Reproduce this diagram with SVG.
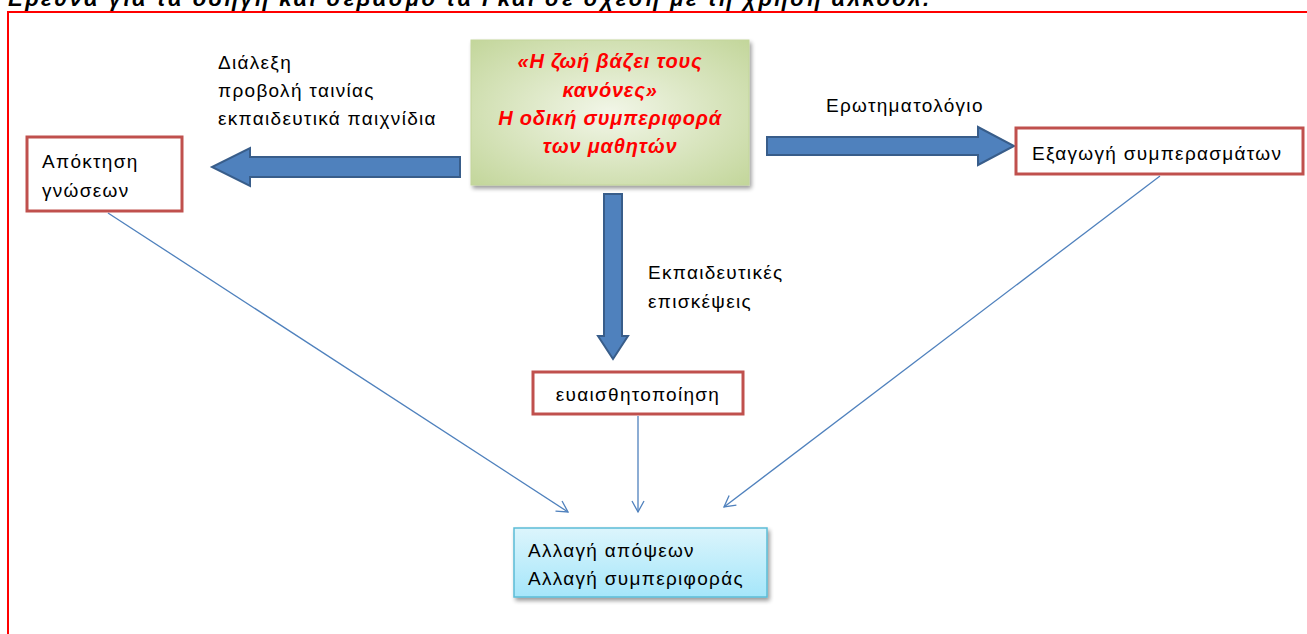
<svg xmlns="http://www.w3.org/2000/svg" width="1307" height="634" viewBox="0 0 1307 634">
<defs>
<style>
.t{font-family:"Liberation Sans",Arial,sans-serif;font-size:19px;letter-spacing:1.3px;fill:#000}
.title{font-family:"Liberation Sans",Arial,sans-serif;font-size:20px;font-weight:bold;font-style:italic;letter-spacing:0.8px;fill:#ff0000}
.box{fill:#fff;stroke:#c0504d;stroke-width:3}
.blk{fill:#4f81bd;stroke:#385d8a;stroke-width:2}
.thin{stroke:#4f81bd;stroke-width:1.3;fill:none;marker-end:url(#open)}
</style>
<radialGradient id="g" cx="50%" cy="50%" r="70%">
<stop offset="0" stop-color="#f2f6e8"/>
<stop offset="1" stop-color="#c3d69b"/>
</radialGradient>
<linearGradient id="b" x1="0" y1="0" x2="0" y2="1">
<stop offset="0" stop-color="#dcf5fc"/>
<stop offset="1" stop-color="#a5e6fa"/>
</linearGradient>
<filter id="sh" x="-10%" y="-10%" width="130%" height="130%">
<feGaussianBlur in="SourceAlpha" stdDeviation="2"/>
<feOffset dx="2" dy="3"/>
<feComponentTransfer><feFuncA type="linear" slope="0.4"/></feComponentTransfer>
<feMerge><feMergeNode/><feMergeNode in="SourceGraphic"/></feMerge>
</filter>
<marker id="open" markerWidth="14" markerHeight="14" refX="12" refY="7" orient="auto" markerUnits="userSpaceOnUse">
<path d="M1,1 L12,7 L1,13" fill="none" stroke="#4f81bd" stroke-width="1.3"/>
</marker>
</defs>
<rect width="1307" height="634" fill="#fff"/>
<text x="4" y="6" textLength="925" lengthAdjust="spacing" style="font-family:'Liberation Sans',Arial,sans-serif;font-size:22px;font-style:italic;font-weight:bold;fill:#000">Έρευνα για τα οδηγή και σεβασμό τα Γκαι σε σχέση με τη χρήση αλκοόλ.</text>
<rect x="8" y="12" width="1310" height="640" fill="none" stroke="#ff0000" stroke-width="2"/>

<g id="connectors">
<path class="blk" d="M460,157 L250,157 L250,148 L212,167 L250,186 L250,177 L460,177 Z"/>
<path class="blk" d="M767,137 L978,137 L978,127 L1014,146 L978,165 L978,155 L767,155 Z"/>
<path class="blk" d="M604,194 L604,336 L598,336 L613,359 L628,336 L622,336 L622,194 Z"/>
<line class="thin" x1="108" y1="213" x2="568" y2="512"/>
<line class="thin" x1="638" y1="416" x2="638" y2="512"/>
<line class="thin" x1="1160" y1="176" x2="724" y2="507"/>
</g>

<g id="center">
<rect x="471" y="40" width="278" height="145" fill="url(#g)" stroke="#c3d69b" stroke-width="1" filter="url(#sh)"/>
<text class="title" text-anchor="middle" x="610" y="68">«Η ζωή βάζει τους</text>
<text class="title" text-anchor="middle" x="610" y="97">κανόνες»</text>
<text class="title" text-anchor="middle" x="610" y="125">Η οδική συμπεριφορά</text>
<text class="title" text-anchor="middle" x="610" y="153">των μαθητών</text>
</g>

<g id="label-left">
<text class="t" x="218" y="69">Διάλεξη</text>
<text class="t" x="218" y="97">προβολή ταινίας</text>
<text class="t" x="218" y="125">εκπαιδευτικά παιχνίδια</text>
</g>

<g id="label-right">
<text class="t" x="826" y="112">Ερωτηματολόγιο</text>
</g>

<g id="label-down">
<text class="t" x="648" y="279">Εκπαιδευτικές</text>
<text class="t" x="648" y="308">επισκέψεις</text>
</g>

<g id="knowledge">
<rect class="box" x="27" y="137" width="155" height="74"/>
<text class="t" x="42" y="168">Απόκτηση</text>
<text class="t" x="42" y="197">γνώσεων</text>
</g>

<g id="conclusions">
<rect class="box" x="1016" y="128" width="287" height="46"/>
<text class="t" x="1032" y="160">Εξαγωγή συμπερασμάτων</text>
</g>

<g id="awareness">
<rect class="box" x="533" y="372" width="210" height="42"/>
<text class="t" x="638" y="401" text-anchor="middle">ευαισθητοποίηση</text>
</g>

<g id="change">
<rect x="514" y="528" width="253" height="69" fill="url(#b)" stroke="#5bbcd6" stroke-width="1.5" filter="url(#sh)"/>
<text class="t" x="528" y="557">Αλλαγή απόψεων</text>
<text class="t" x="528" y="585">Αλλαγή συμπεριφοράς</text>
</g>
</svg>
